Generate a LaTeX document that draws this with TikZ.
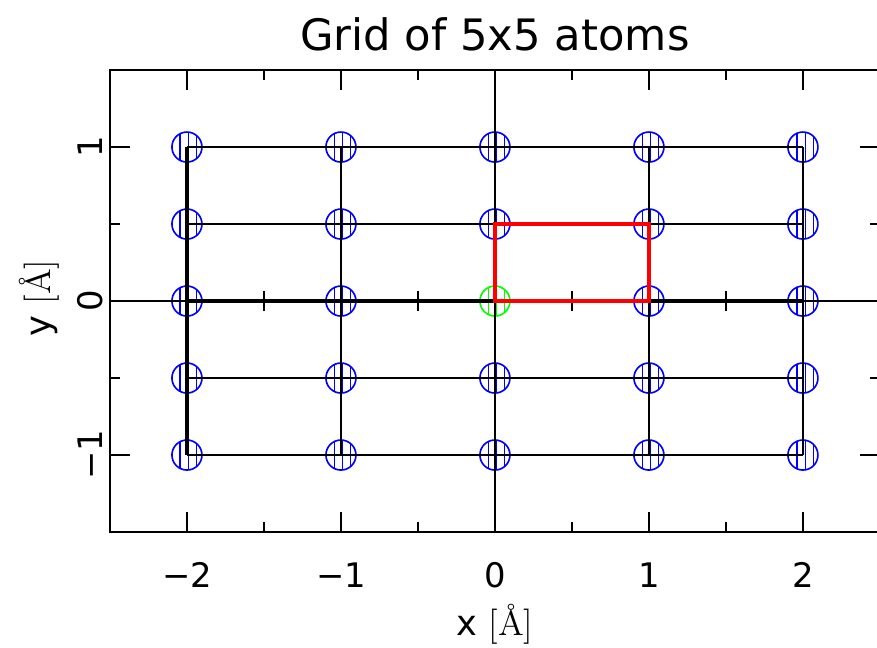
\documentclass[tikz,border=0pt]{standalone}
\usepackage{fontspec}
\setsansfont{DejaVu Sans}
\usetikzlibrary{patterns}

\begin{document}
\begin{tikzpicture}[
    x=2cm,
    y=2cm,
    atom/.style={circle,draw=blue,line width=0.6pt,minimum size=0.39cm,inner sep=0pt,
        pattern=vertical lines,pattern color=blue},
    gridline/.style={draw=black,line width=0.75pt},
    latvec/.style={draw=black,line width=1.6pt},
    cell/.style={draw=red,line width=1.3pt},
    frame/.style={draw=black,line width=0.8pt},
    ticklabel/.style={font=\sffamily\fontsize{12.5}{14}\selectfont,inner sep=0pt},
    axislabel/.style={font=\sffamily\fontsize{13}{15}\selectfont,inner sep=0pt},
    titlelabel/.style={font=\sffamily\fontsize{16}{18}\selectfont,inner sep=0pt}
]

% Picture area (the right edge of the frame falls just outside).
\useasboundingbox (-3.214,-2.247) rectangle (2.481,1.955);
\clip (-3.214,-2.247) rectangle (2.481,1.955);

% Atoms.
\foreach \i in {1,...,5}
  \foreach \j in {1,...,5} {
    \ifnum\i\j=33 \def\atomcol{green}\else\def\atomcol{blue}\fi
    \node[atom,draw=\atomcol,pattern color=\atomcol] (at-\i-\j) at ({\i-3},{(\j-3)/2}) {};
  }

% Frame and zero axes.
\draw[frame] (-2.5,-1.5) rectangle (2.5,1.5);
\coordinate (zl) at (-2.5,0);
\coordinate (zr) at (2.5,0);
\coordinate (zb) at (0,-1.5);
\coordinate (zt) at (0,1.5);
\draw[gridline] (zl) -- (zr);
\draw[gridline] (zb) -- (zt);
\foreach \x in {-1.5,-0.5,0.5,1.5} {
    \draw[gridline] (\x,-0.065) -- (\x,0.065);
}
\foreach \y in {-0.5,0.5} {
    \draw[gridline] (-0.065,\y) -- (0.065,\y);
}

% Frame ticks.
\foreach \x in {-2,...,2} {
    \draw[frame] (\x,-1.5) -- ++(0,0.13);
    \draw[frame] (\x,1.5) -- ++(0,-0.13);
}
\foreach \x in {-1.5,-0.5,0.5,1.5} {
    \draw[frame] (\x,-1.5) -- ++(0,0.065);
    \draw[frame] (\x,1.5) -- ++(0,-0.065);
}
\foreach \y in {-1,0,1} {
    \draw[frame] (-2.5,\y) -- ++(0.13,0);
    \draw[frame] (2.5,\y) -- ++(-0.13,0);
}
\foreach \y in {-0.5,0.5} {
    \draw[frame] (-2.5,\y) -- ++(0.065,0);
    \draw[frame] (2.5,\y) -- ++(-0.065,0);
}

% Lattice lines.
\foreach \j in {1,...,5} {
    \draw[gridline] (at-1-\j.center) -- (at-5-\j.center);
}
\foreach \i in {1,...,5} {
    \draw[gridline] (at-\i-1.center) -- (at-\i-5.center);
}
\draw[latvec] (at-1-3.center) -- (at-5-3.center);
\draw[latvec] (at-1-1.center) -- (at-1-5.center);

% Unit cell.
\draw[cell] (at-3-3.center) rectangle (at-4-4.center);

% Tick labels.
\foreach \x/\lab in {-2/−2,-1/−1,0/0,1/1,2/2} {
    \node[ticklabel] (xt\x) at (\x,-1.78) {\lab};
}
\foreach \y/\lab in {-1/−1,0/0,1/1} {
    \node[ticklabel,rotate=90] (yt\y) at (-2.63,\y) {\lab};
}

% Titles.
\node[titlelabel] (title) at (0,1.73) {Grid of 5x5 atoms};
\node[axislabel] (xlabel) at (0,-2.10) {x {\rmfamily [Å]}};
\node[axislabel,rotate=90] (ylabel) at (-2.96,0.02) {y {\rmfamily [Å]}};

\end{tikzpicture}
\end{document}
